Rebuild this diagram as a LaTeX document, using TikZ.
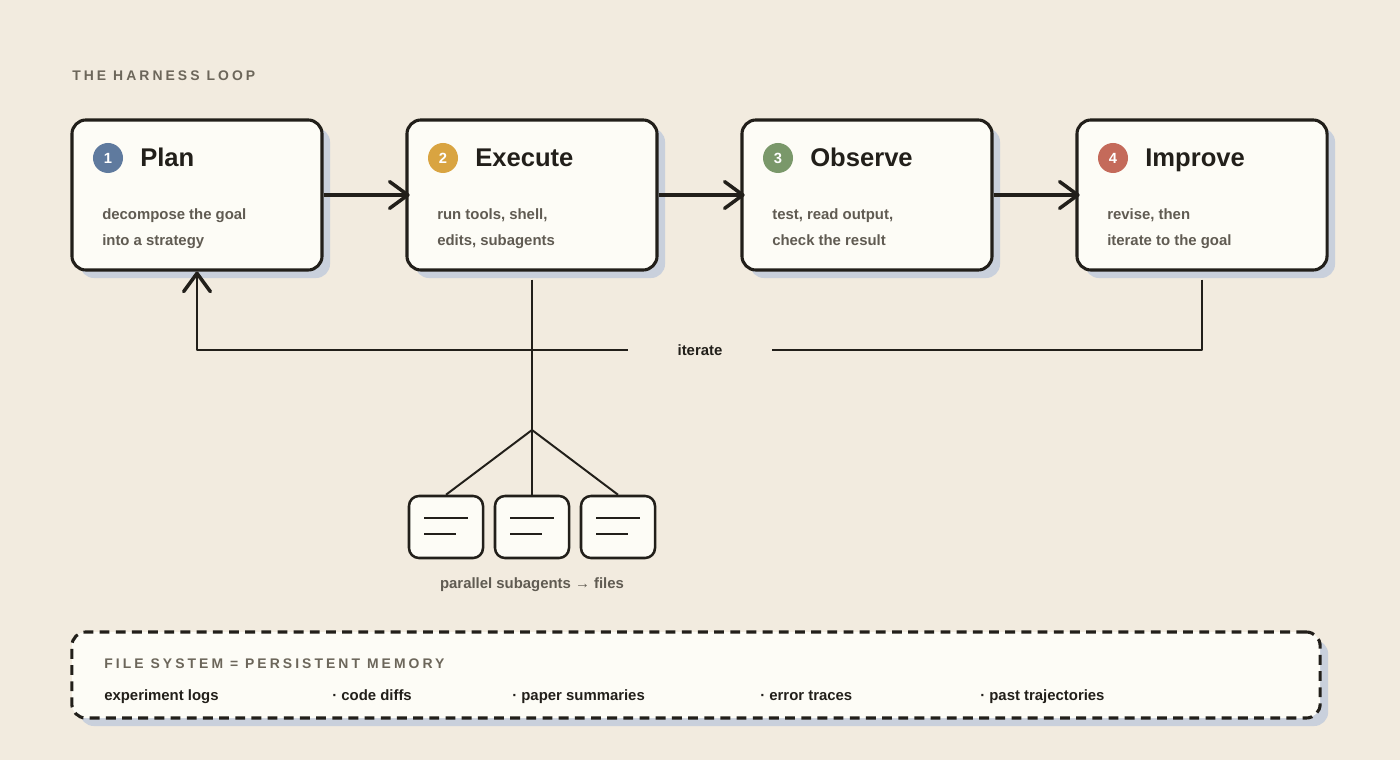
\documentclass[tikz,border=0pt]{standalone}
\usepackage{fontspec}
\setmainfont{Liberation Sans}
\newfontfamily\spacedfont[LetterSpace=22]{Liberation Sans}
\usetikzlibrary{arrows.meta,shadows}

\definecolor{bg}{RGB}{242,235,223}
\definecolor{card}{RGB}{253,252,246}
\definecolor{shade}{RGB}{201,208,220}
\definecolor{ink}{RGB}{34,31,26}
\definecolor{muted}{RGB}{96,91,82}
\definecolor{capsgrey}{RGB}{108,102,90}
\definecolor{cplan}{RGB}{95,122,158}
\definecolor{cexec}{RGB}{217,164,65}
\definecolor{cobs}{RGB}{122,152,106}
\definecolor{cimp}{RGB}{196,106,90}

\tikzset{
  stepbox/.style={draw=ink, line width=2.2pt, fill=card, rounded corners=0.35cm,
    minimum width=6.25cm, minimum height=3.75cm,
    general shadow={fill=shade, shadow xshift=0.2cm, shadow yshift=-0.2cm}},
  numdot/.style={circle, minimum size=0.75cm, inner sep=0pt, text=white,
    font=\bfseries\fontsize{10.5}{12}\selectfont},
  steptitle/.style={anchor=base west, inner sep=0pt, text=ink,
    font=\bfseries\fontsize{18.2}{22}\selectfont},
  stepbody/.style={anchor=base west, inner sep=0pt, text=muted,
    font=\bfseries\fontsize{10.6}{13}\selectfont},
  capsline/.style={anchor=base west, inner sep=0pt, text=capsgrey,
    font=\spacedfont\bfseries\fontsize{9.9}{12}\selectfont},
  itemtext/.style={anchor=base west, inner sep=0pt, text=ink,
    font=\bfseries\fontsize{10.6}{13}\selectfont},
  barb/.style={-{Straight Barb[length=13pt, width=19pt, line width=2.5pt, round]}},
  flow/.style={draw=ink, line width=2.2pt, barb, shorten >=-3pt},
  loopline/.style={draw=ink, line width=1.8pt, line join=round},
  fanline/.style={draw=ink, line width=1.4pt},
  subbox/.style={draw=ink, line width=1.8pt, fill=card, rounded corners=0.25cm,
    minimum width=1.85cm, minimum height=1.55cm},
  memorybox/.style={draw=ink, line width=2.2pt, dash pattern=on 7pt off 4.5pt,
    fill=card, rounded corners=0.35cm, minimum width=31.2cm, minimum height=2.15cm,
    general shadow={fill=shade, shadow xshift=0.2cm, shadow yshift=-0.2cm}}
}

\begin{document}
\begin{tikzpicture}[x=0.025cm, y=-0.025cm]
  \fill[bg] (0,0) rectangle (1400,760);
  \useasboundingbox (0,0) rectangle (1400,760);

  \node[capsline] (heading) at (72,81) {THE HARNESS LOOP};

  % the four steps
  \foreach \i/\name/\num/\title/\col/\la/\lb in {
      0/plan/1/Plan/cplan/{decompose the goal}/{into a strategy},
      1/execute/2/Execute/cexec/{run tools, shell,}/{edits, subagents},
      2/observe/3/Observe/cobs/{test, read output,}/{check the result},
      3/improve/4/Improve/cimp/{revise, then}/{iterate to the goal}}{
    \node[stepbox] (\name) at ({197+335*\i},195) {};
    \node[numdot, fill=\col] (\name-num) at ({108+335*\i},158) {\num};
    \node[steptitle] (\name-title) at ({140+335*\i},167) {\title};
    \node[stepbody] (\name-la) at ({102+335*\i},220) {\la};
    \node[stepbody] (\name-lb) at ({102+335*\i},246) {\lb};
  }

  % forward arrows
  \draw[flow] (plan) -- (execute);
  \draw[flow] (execute) -- (observe);
  \draw[flow] (observe) -- (improve);

  % iterate loop
  \node[inner sep=0pt, minimum width=3.6cm, minimum height=0.6cm, text=ink,
    font=\bfseries\fontsize{10.6}{13}\selectfont] (iterate) at (700,350) {iterate};
  \draw[loopline] ([yshift=-0.2cm]improve.south) |- (iterate.east);
  \draw[loopline, barb] (iterate.west) -| (plan.south);

  % parallel subagents
  \coordinate (fork) at (532,430);
  \foreach \j/\sx in {1/446, 2/532, 3/618}{
    \node[subbox] (sub\j) at (\sx,527) {};
    \draw[fanline] ([shift={(-22,-9)}]sub\j.center) -- ([shift={(22,-9)}]sub\j.center);
    \draw[fanline] ([shift={(-22,7)}]sub\j.center) -- ([shift={(10,7)}]sub\j.center);
    \draw[fanline] (fork) -- (sub\j.north);
  }
  \draw[fanline] ([yshift=-0.2cm]execute.south) -- (fork);
  \node[text=muted, font=\bfseries\fontsize{10.6}{13}\selectfont] (sublabel)
    at (532,585) {parallel subagents \textrightarrow{} files};

  % file system memory
  \node[memorybox] (memory) at (696,675) {};
  \node[capsline] (memory-title) at (104,668) {FILE SYSTEM = PERSISTENT MEMORY};
  \node[itemtext] (item1) at (104,700) {experiment logs};
  \node[itemtext] (item2) at (332,700) {· code diffs};
  \node[itemtext] (item3) at (512,700) {· paper summaries};
  \node[itemtext] (item4) at (760,700) {· error traces};
  \node[itemtext] (item5) at (980,700) {· past trajectories};
\end{tikzpicture}
\end{document}
